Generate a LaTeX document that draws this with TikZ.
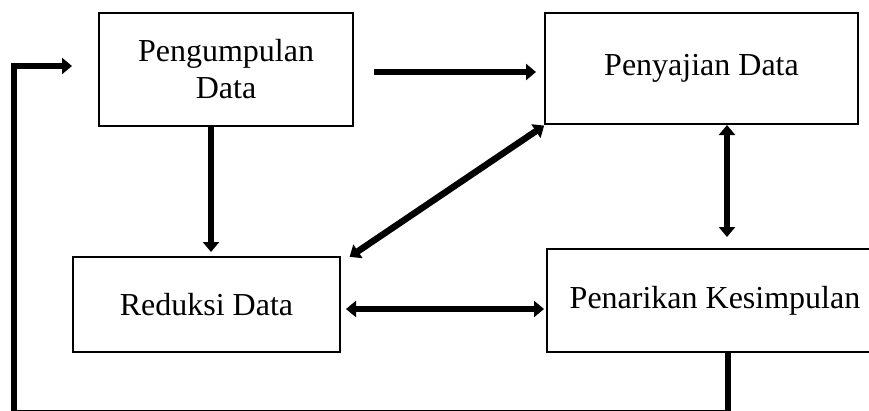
\documentclass[tikz,border=0pt]{standalone}
\usepackage{fontspec}
\setmainfont{Liberation Serif}
\usetikzlibrary{arrows.meta}

\begin{document}
\begin{tikzpicture}[x=1pt,y=-1pt,
  box/.style={draw,line width=2pt,inner sep=0pt,align=center,font=\fontsize{32}{37}\selectfont},
  arr/.style={line width=6.5pt,-{Triangle[length=10pt,width=16pt]}},
  biarr/.style={line width=6.5pt,{Triangle[length=10pt,width=16pt]}-{Triangle[length=10pt,width=16pt]}}]
\useasboundingbox (0,0) rectangle (869,410);
\clip (0,0) rectangle (869,410);
\fill[white] (0,0) rectangle (869,410);
\node[box,minimum width=254pt,minimum height=113pt] (peng) at (226,69.5) {Pengumpulan\\Data};
\node[box,minimum width=313pt,minimum height=111pt] (peny) at (701.5,68.5) {Penyajian Data};
\node[box,minimum width=267pt,minimum height=95pt] (red) at (206.5,304.5) {Reduksi Data};
\node[box,minimum width=336pt,minimum height=103pt] (pen) at (715,300.5) {Penarikan Kesimpulan};
\draw[arr,shorten <=20pt,shorten >=8pt] ([yshift=-2.5pt]peng.east) -- ([yshift=-2.5pt]peng.east -| peny.west);
\draw[arr,shorten >=4pt] ([xshift=-15pt]peng.south) -- ([xshift=-15pt]peng.south |- red.north);
\draw[biarr,shorten <=1pt,shorten >=2pt] ([xshift=1pt]peny.south west) -- ([xshift=7pt,yshift=-2pt]red.north east);
\draw[biarr,shorten >=11pt] ([xshift=25.5pt]peny.south) -- ([xshift=25.5pt]peny.south |- pen.north);
\draw[biarr,shorten <=5pt,shorten >=2pt] ([yshift=-4.5pt]red.east) -- ([yshift=-4.5pt]red.east -| pen.west);
\coordinate (back) at (14,413);
\draw[arr,line join=miter] ([xshift=13pt]pen.south) -- ([xshift=13pt]pen.south |- back) -- (back) -- (14,66) -- ([xshift=-26pt,yshift=3.5pt]peng.west);
\end{tikzpicture}
\end{document}
